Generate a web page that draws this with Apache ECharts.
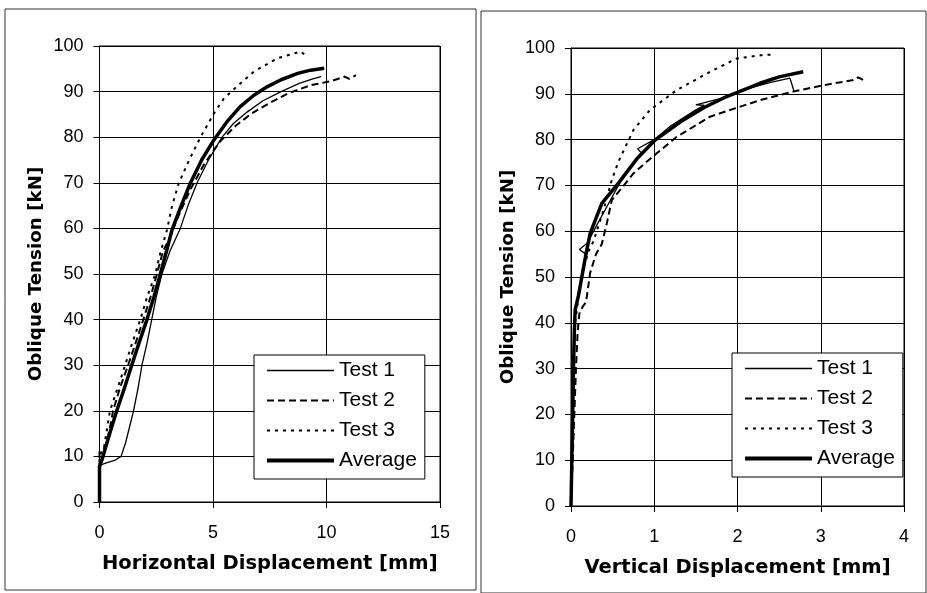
<!DOCTYPE html>
<html>
<head>
<meta charset="utf-8">
<script src="https://cdn.jsdelivr.net/npm/echarts@6/dist/echarts.min.js"></script>
<style>
  html, body { margin: 0; padding: 0; background: #fff; }
  #chart { width: 927px; height: 593px; }
</style>
</head>
<body>
<div id="chart"></div>
<script>
// horizontal displacement [mm] vs oblique tension [kN]
var hTest1 = [[0,0],[0,8],[0.3,8.6],[0.7,9.2],[0.95,10],[1.15,13],[1.35,17],[1.5,20],[1.7,25],[1.87,30],[2.1,35],[2.3,40],[2.5,45],[2.75,50],[3.1,55],[3.56,60],[3.9,65],[4.3,70],[4.8,75],[5.4,80],[5.9,83],[6.5,85.5],[7.2,88],[8.0,90],[8.8,91.8],[9.4,92.8],[9.76,93.3]]
var hTest2 = [[0,0],[0,11],[0.25,12],[0.45,16],[0.6,20],[0.9,25],[1.26,30],[1.6,35],[1.93,40],[2.25,45],[2.53,50],[2.8,55],[3.1,58],[3.5,63],[4.0,68.5],[4.6,74],[5.3,79],[6.0,82.5],[6.7,85.2],[7.5,87.5],[8.3,89.6],[9.3,91.4],[10.2,92.3],[10.8,93.3],[11.0,92.8],[11.3,93.6]]
var hTest3 = [[0,0],[0,10],[0.2,12],[0.46,20],[0.8,25],[1.13,30],[1.45,35],[1.8,40],[2.1,45],[2.46,50],[2.7,55],[2.97,59.6],[3.2,65],[3.49,69.9],[3.95,75],[4.45,80],[5.04,85.2],[5.48,88.5],[5.92,90.5],[6.8,94.4],[7.84,97.3],[8.87,98.8],[9.1,97.8]]
var hAverage = [[0,0],[0,7.7],[0.15,9.9],[0.45,15],[0.76,20],[1.1,25],[1.42,30],[1.75,35],[2.09,40],[2.4,45],[2.68,50],[2.95,55],[3.19,59.6],[3.6,65],[4.0,69.9],[4.5,75],[5.04,79.4],[5.6,83.3],[6.2,86.7],[6.8,89.2],[7.4,91.1],[8.0,92.6],[8.73,94],[9.3,94.7],[9.9,95.1]]

// vertical displacement [mm] vs oblique tension [kN]
var vTest1 = [[0,0],[0.01,5],[0.02,15],[0.03,25],[0.04,35],[0.05,42],[0.1,47],[0.14,52],[0.18,55],[0.1,56],[0.2,57.5],[0.3,61],[0.45,66],[0.6,71],[0.75,75],[0.85,77],[0.8,78],[1.0,80],[1.2,83],[1.5,86.5],[1.6,87.5],[1.5,87.6],[1.8,89],[2.1,91],[2.4,92.5],[2.63,93.4],[2.68,90.5]]
var vTest2 = [[0,0],[0.02,10],[0.04,20],[0.06,30],[0.08,38],[0.1,42],[0.14,43.5],[0.18,44.5],[0.2,47],[0.23,50.9],[0.3,55],[0.37,57.2],[0.43,61.7],[0.49,66.8],[0.59,69],[0.75,72.6],[0.9,75],[1.03,77],[1.27,80.6],[1.67,85],[2.0,87],[2.27,88.6],[2.67,90.5],[3.07,92],[3.39,93],[3.45,93.6],[3.55,92.6]]
var vTest3 = [[0,0],[0.01,10],[0.02,20],[0.03,30],[0.05,40],[0.1,47],[0.15,52],[0.22,56],[0.27,57.8],[0.39,64.6],[0.49,71.2],[0.57,75.2],[0.75,82.1],[0.95,86.5],[1.27,90.8],[1.67,94.8],[1.99,97.7],[2.31,98.5],[2.4,98.5]]
var vAverage = [[0,0],[0.01,10],[0.02,20],[0.03,30],[0.04,38],[0.05,42.8],[0.09,46],[0.13,50],[0.18,55],[0.23,59.5],[0.37,66.1],[0.57,70.5],[0.8,76],[1.01,79.9],[1.35,84.3],[1.6,87],[1.87,89.4],[2.27,92.3],[2.5,93.7],[2.79,94.8]]

var names = ['Test 1', 'Test 2', 'Test 3', 'Average']
var yName = 'Oblique Tension [kN]'
var xNames = ['Horizontal Displacement [mm]', 'Vertical Displacement [mm]']

var font = 'Liberation Sans, Arial, sans-serif'
var boldFont = 'DejaVu Sans, sans-serif'
var myChart = echarts.init(document.getElementById('chart'))

function valueAxis(idx, max, interval, name, isX) {
  return {
    type: 'value',
    gridIndex: idx,
    min: 0,
    max: max,
    interval: interval,
    axisLine: { show: true, onZero: false, lineStyle: { color: '#000', width: 1 } },
    axisTick: { show: true, inside: false, length: 6, lineStyle: { color: '#000' } },
    axisLabel: { color: '#000', fontSize: 18, fontFamily: font, margin: isX ? 22 : 16 },
    splitLine: { show: true, lineStyle: { color: '#000', width: 1 } },
    name: name,
    nameLocation: 'middle',
    nameGap: isX ? 52 : 54,
    nameTextStyle: { color: '#000', fontSize: isX ? 19.5 : 18.3, fontWeight: 'bold', fontFamily: boldFont }
  }
}

// thin solid, dashed, dotted, thick solid
var styles = [
  { color: '#000', width: 1.3, type: 'solid' },
  { color: '#000', width: 2, type: [7, 4] },
  { color: '#000', width: 2, type: [3, 5] },
  { color: '#000', width: 3.5, type: 'solid' }
]

function mkSeries(i, data, idx) {
  return {
    name: names[i],
    type: 'line',
    xAxisIndex: idx,
    yAxisIndex: idx,
    data: data,
    showSymbol: false,
    symbol: 'none',
    lineStyle: styles[i],
    itemStyle: { color: '#000' },
    z: i == 3 ? 4 : 3
  }
}

function mkLegend(left, top) {
  return {
    data: names.map(function(n, i) {
      return { name: n, lineStyle: { width: i == 3 ? 4 : styles[i].width } }
    }),
    orient: 'vertical',
    left: left,
    top: top,
    itemWidth: 67,
    itemHeight: 14,
    itemGap: 9,
    padding: [5, 8, 8, 11],
    backgroundColor: '#fff',
    borderColor: '#000',
    borderWidth: 1,
    selectedMode: false,
    itemStyle: { opacity: 0, borderWidth: 0 },
    textStyle: { color: '#000', fontSize: 21, fontFamily: font }
  }
}

option = {
  animation: false,
  backgroundColor: '#fff',
  graphic: [
    { type: 'rect', shape: { x: 5, y: 9, width: 471, height: 581 }, style: { fill: 'none', stroke: '#333', lineWidth: 1 } },
    { type: 'rect', shape: { x: 481, y: 11, width: 445, height: 582 }, style: { fill: 'none', stroke: '#333', lineWidth: 1 } }
  ],
  grid: [
    { left: 99.5, top: 46, width: 340.5, height: 456, show: true, borderColor: '#000', borderWidth: 1 },
    { left: 571, top: 48, width: 333, height: 458, show: true, borderColor: '#000', borderWidth: 1 }
  ],
  legend: [mkLegend(254, 355), mkLegend(732, 353)],
  xAxis: [valueAxis(0, 15, 5, xNames[0], true), valueAxis(1, 4, 1, xNames[1], true)],
  yAxis: [valueAxis(0, 100, 10, yName, false), valueAxis(1, 100, 10, yName, false)],
  series: [
    mkSeries(0, hTest1, 0), mkSeries(1, hTest2, 0), mkSeries(2, hTest3, 0), mkSeries(3, hAverage, 0),
    mkSeries(0, vTest1, 1), mkSeries(1, vTest2, 1), mkSeries(2, vTest3, 1), mkSeries(3, vAverage, 1)
  ]
}
myChart.setOption(option)
</script>
</body>
</html>
